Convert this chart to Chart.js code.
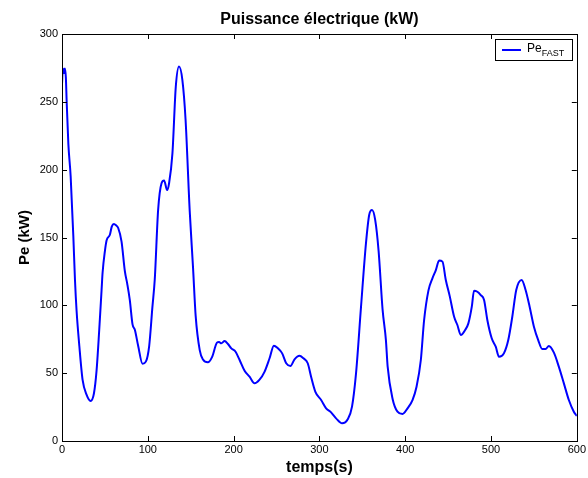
<!DOCTYPE html>
<html>
<head>
<meta charset="utf-8">
<script src="https://cdn.jsdelivr.net/npm/chart.js@4"></script>
<style>
  body { margin: 0; background: #fff; }
  canvas { display: block; }
</style>
</head>
<body>
<canvas id="peChart" width="588" height="478"></canvas>
<script>
// temps (s) and Pe (kW)
const times = [0, 1, 2.3, 3.3, 4.5, 5.4, 7.4, 10.1, 13.2, 15.1, 17, 20.2, 24, 28.7, 33.3, 37.2, 40.3, 43.4, 46.1,
  47.3, 50, 52, 55.8, 58, 60.5, 63, 65.5, 69.4, 73.3, 76, 79, 82.2, 84.9, 88.8, 93.8, 97.7, 101.6, 105.4, 108.1,
  112, 116, 119, 122.5, 124.8, 128.7, 132.6, 136.4, 140.3, 144, 148.8, 152.7, 155.8, 160.5, 164.3, 170, 175,
  180.6, 183, 185.7, 189.5, 193.4, 197.3, 202.3, 207, 212.8, 218.6, 224.4, 230, 236, 241.9, 246.9, 251.6, 256.6,
  261.3, 266.3, 271, 276.7, 281.4, 286.4, 290.3, 295.3, 302, 307.8, 313.6, 319.4, 326.4, 333, 338, 342.7, 348.5,
  354.3, 358, 361.3, 365, 369, 373.6, 377.5, 379.5, 385.3, 391, 396.9, 402.7, 408.5, 413.2, 418.2, 422, 427.1,
  431.8, 435.7, 439.5, 443.4, 447.3, 452, 457, 460.8, 464.8, 469.8, 473.6, 477.6, 480.2, 484.1, 488, 491.9,
  495.7, 500.8, 505.5, 509.3, 515, 520.1, 524.8, 529.4, 535.7, 540.3, 545, 550, 555, 559.7, 563.6, 567.4, 573.3,
  579, 584.9, 590.7, 596.5, 600];
const peFast = [263, 274.5, 271, 274.5, 268, 251, 219, 195, 151, 119, 96, 70, 45, 34, 29.5, 35, 52, 82, 111,
  124, 140, 148, 152, 158, 160, 159, 157, 147, 125, 116, 104, 86, 82, 70, 57, 58.5, 70, 99, 119,
  170, 190, 192, 185, 190, 212, 261, 276, 266, 237, 170, 128, 92, 67, 60, 58, 62,
  72.5, 73, 72, 73.7, 71.5, 68.3, 65.8, 59.7, 51.8, 47.4, 42.5, 45, 51, 61, 70.3, 68.3, 64.6,
  57.3, 55.3, 60.2, 62.9, 61, 57.3, 47.4, 36.3, 30.2, 24.1, 21.1, 16.7, 13, 16, 25.3, 50, 99,
  146, 166.6, 170.3, 163, 140, 97, 74.4, 55, 31, 21.6, 19.9, 24.1, 30.2, 40, 59.7, 89, 111,
  120, 126, 133, 132.2, 118.7, 106.4, 91.6, 85.5, 78.1, 81.8, 86.7, 99, 110.8, 110, 107.6, 104,
  89.2, 75.7, 69.5, 62.1, 64.6, 74.4, 91.6, 111.3, 118.7, 111.3, 99, 84.3, 74.4, 67.8, 67.8, 70, 65.1,
  54.8, 42.5, 30.2, 21.6, 18.4];

const xTicks = [0, 100, 200, 300, 400, 500, 600];
const yTicks = [0, 50, 100, 150, 200, 250, 300];

const chartTitle = 'Puissance électrique (kW)';
const xLabel = 'temps(s)';
const yLabel = 'Pe (kW)';
const legendMain = 'Pe';
const legendSub = 'FAST';
const lineColor = '#0000ff';

Chart.defaults.font.family = '"Liberation Sans", Arial, Helvetica, sans-serif';
Chart.defaults.color = '#000';

// box round the axes, ticks pointing inwards and a matlab-like legend
const matlabAxes = {
  id: 'matlabAxes',
  afterDatasetsDraw(chart) {
    const { ctx, chartArea: a, scales: { x, y } } = chart;
    ctx.save();
    ctx.strokeStyle = '#000';
    ctx.lineWidth = 1;
    ctx.strokeRect(Math.round(a.left) + 0.5, Math.round(a.top) + 0.5,
      Math.round(a.right - a.left), Math.round(a.bottom - a.top));

    ctx.beginPath();
    xTicks.forEach(v => {
      const px = Math.round(x.getPixelForValue(v)) + 0.5;
      ctx.moveTo(px, a.bottom); ctx.lineTo(px, a.bottom - 5);
      ctx.moveTo(px, a.top); ctx.lineTo(px, a.top + 5);
    });
    yTicks.forEach(v => {
      const py = Math.round(y.getPixelForValue(v)) + 0.5;
      ctx.moveTo(a.left, py); ctx.lineTo(a.left + 5, py);
      ctx.moveTo(a.right, py); ctx.lineTo(a.right - 5, py);
    });
    ctx.stroke();

    // legend
    const bw = 77, bh = 21;
    const bx = Math.round(a.right) - 5 - bw, by = Math.round(a.top) + 5;
    ctx.fillStyle = '#fff';
    ctx.fillRect(bx, by, bw, bh);
    ctx.strokeStyle = '#000';
    ctx.strokeRect(bx + 0.5, by + 0.5, bw, bh);
    const ds = chart.data.datasets[0];
    ctx.strokeStyle = ds.borderColor;
    ctx.lineWidth = 2;
    ctx.beginPath();
    ctx.moveTo(bx + 7, by + 11);
    ctx.lineTo(bx + 26, by + 11);
    ctx.stroke();
    ctx.fillStyle = '#000';
    ctx.textBaseline = 'alphabetic';
    ctx.font = '12px "Liberation Sans", Arial, sans-serif';
    ctx.fillText(legendMain, bx + 32, by + 13);
    const w = ctx.measureText(legendMain).width;
    ctx.font = '9px "Liberation Sans", Arial, sans-serif';
    ctx.fillText(legendSub, bx + 32 + w, by + 17);
    ctx.restore();
  }
};

new Chart(document.getElementById('peChart'), {
  type: 'line',
  data: {
    datasets: [{
      label: legendMain + legendSub,
      data: times.map((t, i) => ({ x: t, y: peFast[i] })),
      borderColor: lineColor,
      borderWidth: 2,
      pointRadius: 0,
      fill: false,
      cubicInterpolationMode: 'monotone'
    }]
  },
  options: {
    responsive: false,
    animation: false,
    devicePixelRatio: 1,
    layout: { padding: 0 },
    plugins: {
      legend: { display: false },
      tooltip: { enabled: false },
      title: {
        display: true,
        text: chartTitle,
        fullSize: false,
        color: '#000',
        font: { size: 16, weight: 'bold' },
        padding: { top: 9.9, bottom: 4.9 }
      }
    },
    scales: {
      x: {
        type: 'linear',
        min: 0,
        max: 600,
        afterBuildTicks: s => { s.ticks = xTicks.map(v => ({ value: v })); },
        afterFit: s => { s.height = 37; },
        grid: { display: false, drawTicks: false },
        border: { display: false },
        ticks: { padding: 2, maxRotation: 0, autoSkip: false, font: { size: 11 } },
        title: { display: true, text: xLabel, font: { size: 16, weight: 'bold' }, padding: { top: 0, bottom: 1 } }
      },
      y: {
        type: 'linear',
        min: 0,
        max: 300,
        afterBuildTicks: s => { s.ticks = yTicks.map(v => ({ value: v })); },
        afterFit: s => { s.width = 62; },
        grid: { display: false, drawTicks: false },
        border: { display: false },
        ticks: { padding: 4, autoSkip: false, font: { size: 11 } },
        title: { display: true, text: yLabel, font: { size: 15, weight: 'bold' }, padding: { top: 16, bottom: 0 } }
      }
    }
  },
  plugins: [matlabAxes]
});
</script>
</body>
</html>
